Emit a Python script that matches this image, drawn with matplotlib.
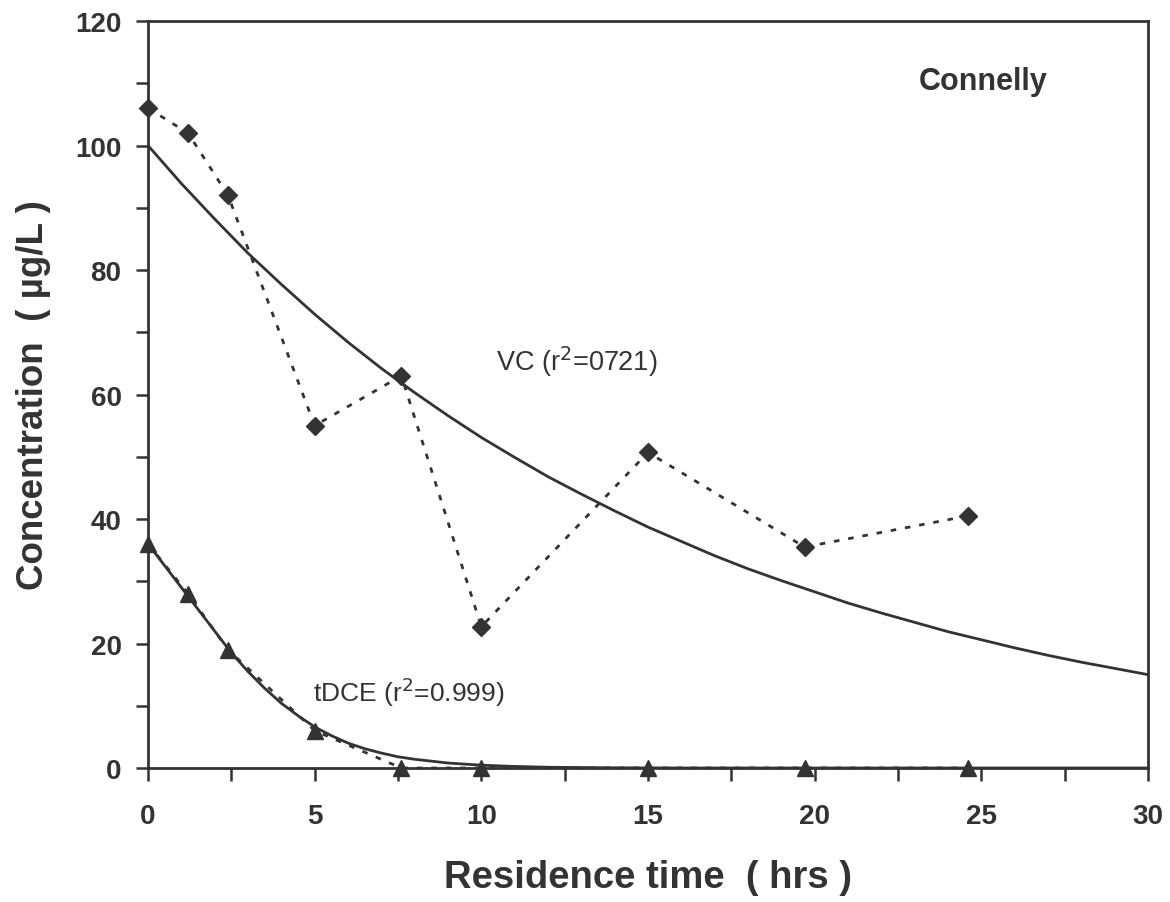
import matplotlib
matplotlib.use('Agg')
import matplotlib.pyplot as plt
from matplotlib.ticker import MultipleLocator

# measured data (residence time in hrs, concentration in ug/L)
time_obs = [0, 1.2, 2.4, 5.0, 7.6, 10.0, 15.0, 19.7, 24.6]
vc_obs = [106, 102, 92, 55, 63, 22.7, 50.7, 35.5, 40.5]
tdce_obs = [36, 28, 19, 6, 0, 0, 0, 0, 0]

# fitted curves
vc_fit_t = list(range(0, 31))
vc_fit = [100, 93.9, 88.2, 82.7, 77.7, 72.9, 68.4, 64.2, 60.3, 56.6, 53.1,
          49.9, 46.8, 44.0, 41.3, 38.7, 36.4, 34.1, 32.0, 30.1, 28.3,
          26.5, 24.9, 23.4, 21.9, 20.6, 19.3, 18.1, 17.0, 16.0, 15.0]
tdce_fit_t = [0, 0.5, 1, 1.5, 2, 2.5, 3, 3.5, 4, 4.5, 5, 5.5, 6, 6.5, 7, 7.5,
              8, 9, 10, 11, 12, 14, 16, 30]
tdce_fit = [36, 32.5, 29, 25.5, 22, 18.5, 15.5, 12.8, 10.4, 8.4, 6.6, 5.2,
            4.0, 3.1, 2.4, 1.8, 1.4, 0.8, 0.45, 0.25, 0.12, 0.03, 0, 0]

ink = '#333333'
plt.rcParams['font.family'] = ['Liberation Sans', 'DejaVu Sans']

fig = plt.figure(figsize=(11.7, 9.03), dpi=100)
ax = fig.add_axes([0.1265, 0.1484, 0.8547, 0.8272])

ax.plot(vc_fit_t, vc_fit, color=ink, lw=2, zorder=2)
ax.plot(tdce_fit_t, tdce_fit, color=ink, lw=2, zorder=2)

ax.plot(time_obs, vc_obs, color=ink, lw=2, linestyle=(0, (2, 3.2)),
        marker='D', markersize=9.5, clip_on=False, zorder=3)
ax.plot(time_obs, tdce_obs, color=ink, lw=2, linestyle=(0, (2, 3.2)),
        marker='^', markersize=11, clip_on=False, zorder=3)

ax.set_xlim(0, 30)
ax.set_ylim(0, 120)
ax.xaxis.set_major_locator(MultipleLocator(5))
ax.xaxis.set_minor_locator(MultipleLocator(2.5))
ax.yaxis.set_major_locator(MultipleLocator(20))
ax.yaxis.set_minor_locator(MultipleLocator(10))

for s in ax.spines.values():
    s.set_color(ink)
    s.set_linewidth(2)

ax.tick_params(which='both', direction='out', color=ink, width=1.8,
               labelcolor=ink, length=9)
ax.tick_params(axis='x', pad=16)
ax.tick_params(axis='y', pad=10)
for lab in ax.get_xticklabels() + ax.get_yticklabels():
    lab.set_fontsize(20)
    lab.set_fontweight('bold')

ax.set_xlabel('Residence time  ( hrs )', fontsize=27.5, fontweight='bold',
              color=ink, labelpad=22)
ax.set_ylabel('Concentration  ( µg/L )', fontsize=26.5, fontweight='bold',
              color=ink)
ax.yaxis.set_label_coords(-0.097, 0.5)

ax.text(0.835, 0.92, 'Connelly', transform=ax.transAxes, fontsize=22,
        fontweight='bold', color=ink, ha='center', va='center')
ax.text(12.85, 65.4, r'VC (r$^2$=0721)', fontsize=19.5, color=ink,
        ha='center', va='center')
ax.text(7.83, 12.4, r'tDCE (r$^2$=0.999)', fontsize=19, color=ink,
        ha='center', va='center')

fig.savefig('out.png', dpi=100)
